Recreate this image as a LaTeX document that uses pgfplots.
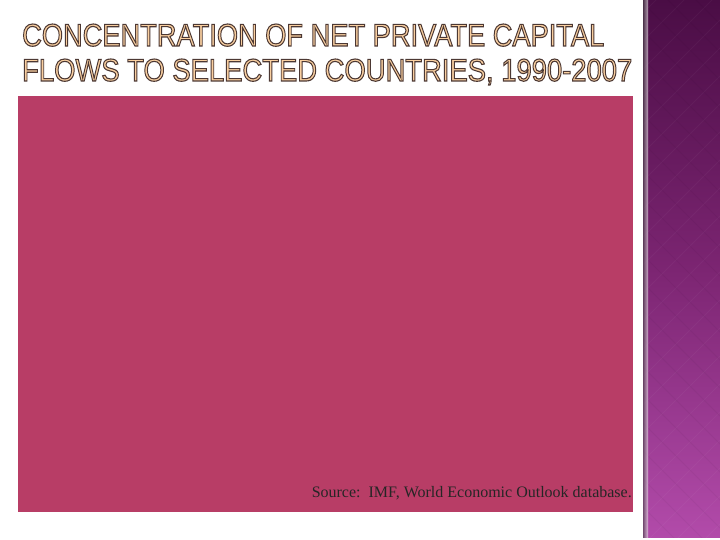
\documentclass[border=0pt]{standalone}
\usepackage{pgfplots}
\pgfplotsset{compat=1.18}
\usepackage{fontspec}
\setmainfont{Liberation Serif}
\newfontfamily\titlefont{Liberation Sans}
\definecolor{slidepink}{HTML}{B83D66}
\definecolor{ptop}{HTML}{4A0D45}
\definecolor{pmid}{HTML}{7C2572}
\definecolor{pbot}{HTML}{B24BAA}
\definecolor{titlefill}{HTML}{F9CFA0}
\begin{document}
\begin{tikzpicture}[x=1pt,y=1pt]
\useasboundingbox (0,0) rectangle (720,540);
\fill[white] (0,0) rectangle (720,540);
% right decorative panel
\shade[top color=ptop,bottom color=pmid] (643,270) rectangle (720,540);
\shade[top color=pmid,bottom color=pbot] (643,2) rectangle (720,270.5);
\begin{scope}
\clip (643,2) rectangle (720,540);
\foreach \i in {-4,...,24}{
  \draw[white,opacity=0.035,line width=1pt] (620,\i*28) -- (760,\i*28+140);
  \draw[black,opacity=0.035,line width=1pt] (620,\i*28+140) -- (760,\i*28);
}
\end{scope}
\shade[left color=black!70,right color=black!0,opacity=0.6] (643,2) rectangle (648,540);
% chart area
\begin{axis}[
  at={(18pt,29pt)}, anchor=south west,
  width=614pt, height=415pt, scale only axis,
  xmin=0, xmax=1, ymin=0, ymax=1,
  ticks=none,
  axis line style={draw=slidepink},
  axis background/.style={fill=slidepink},
]
\addplot[draw=none] coordinates {(0,0)};
\end{axis}
\node[anchor=base east,inner sep=0pt,font=\fontsize{16}{18}\selectfont,text=black!85] at (632,42) {Source:\ \ IMF, World Economic Outlook database.};
% title
\node[anchor=base west,inner sep=0pt,text=titlefill] at (22,494) {\special{pdf:code 2 Tr 0.35 w 0.30 0.22 0.20 RG}\resizebox{582pt}{22pt}{\titlefont CONCENTRATION OF NET PRIVATE CAPITAL}\special{pdf:code 0 Tr}};
\node[anchor=base west,inner sep=0pt,text=titlefill] at (22,459) {\special{pdf:code 2 Tr 0.35 w 0.30 0.22 0.20 RG}\resizebox{610pt}{22pt}{\titlefont FLOWS TO SELECTED COUNTRIES, 1990-2007}\special{pdf:code 0 Tr}};
\end{tikzpicture}
\end{document}
